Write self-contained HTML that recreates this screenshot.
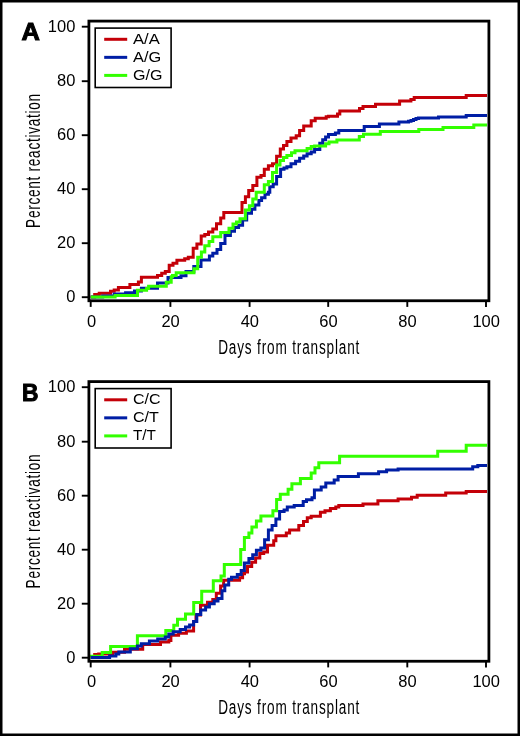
<!DOCTYPE html>
<html><head><meta charset="utf-8"><title>Reactivation curves</title>
<style>
html,body{margin:0;padding:0;background:#fff;}
body{width:520px;height:736px;overflow:hidden;}
svg{display:block;will-change:transform;}
text{font-family:"Liberation Sans",sans-serif;fill:#000;}
.tl{font-size:16px;}
.lt{font-size:15.5px;}
.at{font-size:20px;}
.pl{font-size:24px;font-weight:bold;stroke:#000;stroke-width:1px;stroke-linejoin:miter;}
.tk{stroke:#000;stroke-width:1.9;}
.fr{fill:none;stroke:#000;stroke-width:2.8;}
.lg{fill:none;stroke:#000;stroke-width:1.6;}
.cv{fill:none;stroke-width:3;stroke-linejoin:miter;stroke-linecap:butt;}
.ll{stroke-width:3.0;}
</style></head>
<body>
<svg width="520" height="736" viewBox="0 0 520 736">
<rect x="1.25" y="1.25" width="517.5" height="733.5" fill="#fff" stroke="#000" stroke-width="2.5"/>
<line x1="81.8" y1="297.20" x2="88.90" y2="297.20" class="tk"/>
<text transform="translate(75.3 302.00) scale(1.03 1)" class="tl" text-anchor="end">0</text>
<line x1="90.70" y1="300.75" x2="90.70" y2="306.90" class="tk"/>
<text transform="translate(91.60 326.60) scale(1.03 1)" class="tl" text-anchor="middle">0</text>
<line x1="81.8" y1="243.20" x2="88.90" y2="243.20" class="tk"/>
<text transform="translate(75.3 248.00) scale(1.03 1)" class="tl" text-anchor="end">20</text>
<line x1="170.40" y1="300.75" x2="170.40" y2="306.90" class="tk"/>
<text transform="translate(170.60 326.60) scale(1.03 1)" class="tl" text-anchor="middle">20</text>
<line x1="81.8" y1="189.20" x2="88.90" y2="189.20" class="tk"/>
<text transform="translate(75.3 194.00) scale(1.03 1)" class="tl" text-anchor="end">40</text>
<line x1="249.60" y1="300.75" x2="249.60" y2="306.90" class="tk"/>
<text transform="translate(249.80 326.60) scale(1.03 1)" class="tl" text-anchor="middle">40</text>
<line x1="81.8" y1="135.20" x2="88.90" y2="135.20" class="tk"/>
<text transform="translate(75.3 140.00) scale(1.03 1)" class="tl" text-anchor="end">60</text>
<line x1="328.20" y1="300.75" x2="328.20" y2="306.90" class="tk"/>
<text transform="translate(328.40 326.60) scale(1.03 1)" class="tl" text-anchor="middle">60</text>
<line x1="81.8" y1="81.20" x2="88.90" y2="81.20" class="tk"/>
<text transform="translate(75.3 86.00) scale(1.03 1)" class="tl" text-anchor="end">80</text>
<line x1="407.30" y1="300.75" x2="407.30" y2="306.90" class="tk"/>
<text transform="translate(407.50 326.60) scale(1.03 1)" class="tl" text-anchor="middle">80</text>
<line x1="81.8" y1="26.70" x2="88.90" y2="26.70" class="tk"/>
<text transform="translate(75.3 31.50) scale(1.03 1)" class="tl" text-anchor="end">100</text>
<line x1="486.00" y1="300.75" x2="486.00" y2="306.90" class="tk"/>
<text transform="translate(486.20 326.60) scale(1.03 1)" class="tl" text-anchor="middle">100</text>
<path d="M90.7 297.1H94.7V294.4H99.2V293.2H110.5V291.2H114.2V290.0H118.4V287.6H129.9V284.5H138.4V282.0H141.4V277.2H157.5V275.6H161.7V273.2H165.3V271.5H169.2V265.3H173.0V263.3H176.9V260.3H184.7V258.7H188.3V257.2H193.2V248.3H196.9V244.0H201.2V236.1H204.8V234.6H208.5V232.0H212.8V229.1H216.5V223.8H220.7V218.1H223.8V212.6H242.0V202.6H245.4V196.7H248.7V190.5H252.8V185.5H256.9V177.3H261.0V175.5H264.3V169.2H268.4V165.8H272.5V163.7H276.6V156.3H280.3V149.0H283.5V145.6H286.9V141.5H291.0V138.1H296.2V135.8H299.6V130.6H303.7V126.0H311.2V120.8H315.2V118.2H326.2V116.7H328.5V116.2H337.5V114.0H339.8V111.1H359.5V108.6H363.0V106.5H375.5V104.2H399.6V101.0H410.9V99.5H414.2V97.4H466.2V95.4H487.0" stroke="#c40008" class="cv"/>
<path d="M90.7 297.1H102.7V295.9H114.2V294.0H125.6V292.7H134.5V291.0H141.4V288.2H157.5V282.9H168.0V277.5H181.0V275.8H186.0V271.5H193.8V266.5H201.0V259.9H209.4V256.0H212.8V253.2H217.0V249.5H220.7V243.4H225.0V235.5H230.4V231.2H234.5V227.5H238.6V225.2H242.6V220.0H246.7V213.3H251.5V209.2H254.9V205.1H258.9V200.4H261.6V197.7H265.0V194.3H268.4V192.2H269.8V186.8H273.2V184.1H276.6V176.6H280.6V169.2H284.0V168.0H286.9V166.7H291.0V163.8H295.6V161.2H299.6V158.3H303.7V156.0H307.1V153.7H311.2V151.9H314.6V149.6H319.8V143.3H322.7V139.8H325.6V136.9H328.5V134.6H335.4V132.9H338.8V130.4H364.2V126.5H379.4V124.1H398.9V122.1H408.5V121.3H411.0V120.4H413.5V119.5H416.0V118.6H418.5V117.9H438.5V116.9H466.2V115.4H487.0" stroke="#001ea5" class="cv"/>
<path d="M90.7 297.1H115.1V295.6H137.5V290.3H146.6V288.4H148.6V286.2H166.3V282.3H171.2V276.8H172.5V275.4H176.2V272.7H194.0V268.8H197.7V257.2H201.4V252.0H204.8V245.8H209.1V241.6H212.8V236.7H220.7V232.4H229.0V228.2H233.0V224.1H236.5V222.1H240.0V218.7H245.4V209.9H249.4V205.8H252.8V199.0H256.2V192.2H264.3V184.8H268.4V181.4H272.5V172.6H276.6V165.1H280.0V160.4H283.5V157.4H286.9V155.4H291.5V152.8H295.0V150.8H307.1V148.5H311.2V146.5H314.6V145.9H325.6V143.8H329.0V142.1H336.9V139.9H359.3V136.5H363.5V134.3H380.3V131.5H418.8V129.5H443.0V127.4H473.8V125.1H487.0" stroke="#33ff00" class="cv"/>
<rect x="88.90" y="21.10" width="400.00" height="279.65" class="fr"/>
<rect x="95.2" y="28.10" width="75.9" height="59.4" class="lg"/>
<line x1="104.2" y1="39.30" x2="127.2" y2="39.30" stroke="#c40008" class="ll"/>
<text transform="translate(133.0 43.60) scale(1.073 1)" class="lt">A/A</text>
<line x1="104.2" y1="57.35" x2="127.2" y2="57.35" stroke="#001ea5" class="ll"/>
<text transform="translate(133.0 61.65) scale(1.055 1)" class="lt">A/G</text>
<line x1="104.2" y1="75.40" x2="127.2" y2="75.40" stroke="#33ff00" class="ll"/>
<text transform="translate(133.0 79.70) scale(1.036 1)" class="lt">G/G</text>
<text transform="translate(21.4 40.30) scale(1.06 1)" class="pl">A</text>
<text transform="translate(218.2 353.60) scale(0.68 1)" class="at" textLength="207.65" lengthAdjust="spacing" style="word-spacing:0px">Days from transplant</text>
<text transform="translate(39.9 227.90) rotate(-90) scale(0.68 1)" class="at" textLength="197.06" lengthAdjust="spacing" style="word-spacing:0px">Percent reactivation</text>
<line x1="81.8" y1="657.70" x2="88.90" y2="657.70" class="tk"/>
<text transform="translate(75.3 662.50) scale(1.03 1)" class="tl" text-anchor="end">0</text>
<line x1="90.70" y1="661.25" x2="90.70" y2="667.40" class="tk"/>
<text transform="translate(91.60 687.10) scale(1.03 1)" class="tl" text-anchor="middle">0</text>
<line x1="81.8" y1="603.70" x2="88.90" y2="603.70" class="tk"/>
<text transform="translate(75.3 608.50) scale(1.03 1)" class="tl" text-anchor="end">20</text>
<line x1="170.40" y1="661.25" x2="170.40" y2="667.40" class="tk"/>
<text transform="translate(170.60 687.10) scale(1.03 1)" class="tl" text-anchor="middle">20</text>
<line x1="81.8" y1="549.70" x2="88.90" y2="549.70" class="tk"/>
<text transform="translate(75.3 554.50) scale(1.03 1)" class="tl" text-anchor="end">40</text>
<line x1="249.60" y1="661.25" x2="249.60" y2="667.40" class="tk"/>
<text transform="translate(249.80 687.10) scale(1.03 1)" class="tl" text-anchor="middle">40</text>
<line x1="81.8" y1="495.70" x2="88.90" y2="495.70" class="tk"/>
<text transform="translate(75.3 500.50) scale(1.03 1)" class="tl" text-anchor="end">60</text>
<line x1="328.20" y1="661.25" x2="328.20" y2="667.40" class="tk"/>
<text transform="translate(328.40 687.10) scale(1.03 1)" class="tl" text-anchor="middle">60</text>
<line x1="81.8" y1="441.70" x2="88.90" y2="441.70" class="tk"/>
<text transform="translate(75.3 446.50) scale(1.03 1)" class="tl" text-anchor="end">80</text>
<line x1="407.30" y1="661.25" x2="407.30" y2="667.40" class="tk"/>
<text transform="translate(407.50 687.10) scale(1.03 1)" class="tl" text-anchor="middle">80</text>
<line x1="81.8" y1="387.20" x2="88.90" y2="387.20" class="tk"/>
<text transform="translate(75.3 392.00) scale(1.03 1)" class="tl" text-anchor="end">100</text>
<line x1="486.00" y1="661.25" x2="486.00" y2="667.40" class="tk"/>
<text transform="translate(486.20 687.10) scale(1.03 1)" class="tl" text-anchor="middle">100</text>
<path d="M90.7 657.6H94.7V654.6H98.7V654.0H112.6V652.2H124.5V649.2H142.7V644.5H160.5V641.9H168.8V640.4H170.9V635.3H178.6V633.2H186.4V631.0H193.6V621.5H196.0V615.0H200.5V605.3H207.5V602.3H212.8V599.4H216.3V593.2H220.6V586.0H223.6V580.2H239.6V577.8H242.6V573.8H244.5V572.0H247.5V566.5H251.7V562.3H255.6V558.0H259.8V553.4H263.7V551.9H267.5V545.3H273.7V540.7H275.9V535.7H286.3V533.1H289.6V530.0H298.8V525.4H303.5V521.5H307.3V517.7H311.2V516.2H320.4V512.3H325.0V510.8H330.4V508.5H335.8V506.9H338.8V505.6H363.0V504.0H377.9V500.7H398.1V498.9H411.5V497.3H417.2V495.2H445.7V493.1H466.2V491.4H487.0" stroke="#c40008" class="cv"/>
<path d="M90.7 657.6H91.0V656.3H102.2V652.6H110.6V646.4H137.4V635.8H165.8V630.5H173.8V625.2H177.5V619.2H185.5V614.1H193.7V602.4H201.7V591.3H213.3V580.7H221.0V575.9H224.3V564.5H240.7V549.5H244.4V537.6H248.9V533.1H251.9V527.1H256.4V521.1H260.9V515.9H272.9V510.7H276.6V499.4H280.3V494.2H288.1V489.2H291.9V483.8H300.4V478.5H311.2V473.1H315.0V467.7H318.8V462.8H339.6V456.3H437.7V451.2H466.2V445.3H487.0" stroke="#33ff00" class="cv"/>
<path d="M90.7 657.6H109.6V656.1H115.9V654.1H118.8V652.0H130.3V648.7H137.4V645.9H141.3V643.8H149.4V641.0H157.7V639.0H165.3V637.0H168.8V634.0H173.2V631.7H180.2V629.6H185.5V627.0H189.6V625.0H193.6V621.6H196.8V614.6H200.8V610.0H205.6V607.1H209.4V603.8H214.2V600.9H218.0V598.5H222.0V590.8H224.8V585.0H228.7V579.2H231.5V577.3H237.3V574.4H241.2V570.6H244.4V563.0H248.9V558.5H252.7V554.8H256.4V550.3H260.9V548.0H264.6V539.8H268.4V530.1H272.1V525.6H275.9V518.9H279.6V511.4H284.1V509.9H287.3V506.9H294.2V505.4H303.2V501.5H306.5V499.7H312.0V497.7H314.4V490.0H321.2V486.9H325.8V483.1H334.2V480.0H338.1V476.6H358.4V473.7H378.6V471.7H386.6V470.1H398.1V469.1H472.7V466.8H477.8V465.5H487.0" stroke="#001ea5" class="cv"/>
<rect x="88.90" y="381.60" width="400.00" height="279.65" class="fr"/>
<rect x="95.2" y="388.60" width="75.9" height="59.4" class="lg"/>
<line x1="104.2" y1="399.80" x2="127.2" y2="399.80" stroke="#c40008" class="ll"/>
<text transform="translate(133.0 404.10) scale(1.035 1)" class="lt">C/C</text>
<line x1="104.2" y1="417.85" x2="127.2" y2="417.85" stroke="#001ea5" class="ll"/>
<text transform="translate(133.0 422.15) scale(1.036 1)" class="lt">C/T</text>
<line x1="104.2" y1="435.90" x2="127.2" y2="435.90" stroke="#33ff00" class="ll"/>
<text transform="translate(133.0 440.20) scale(0.99 1)" class="lt">T/T</text>
<text transform="translate(22.0 400.80) scale(0.95 1)" class="pl">B</text>
<text transform="translate(218.2 714.10) scale(0.68 1)" class="at" textLength="207.65" lengthAdjust="spacing" style="word-spacing:0px">Days from transplant</text>
<text transform="translate(39.9 588.40) rotate(-90) scale(0.68 1)" class="at" textLength="197.06" lengthAdjust="spacing" style="word-spacing:0px">Percent reactivation</text>
</svg>
</body></html>
